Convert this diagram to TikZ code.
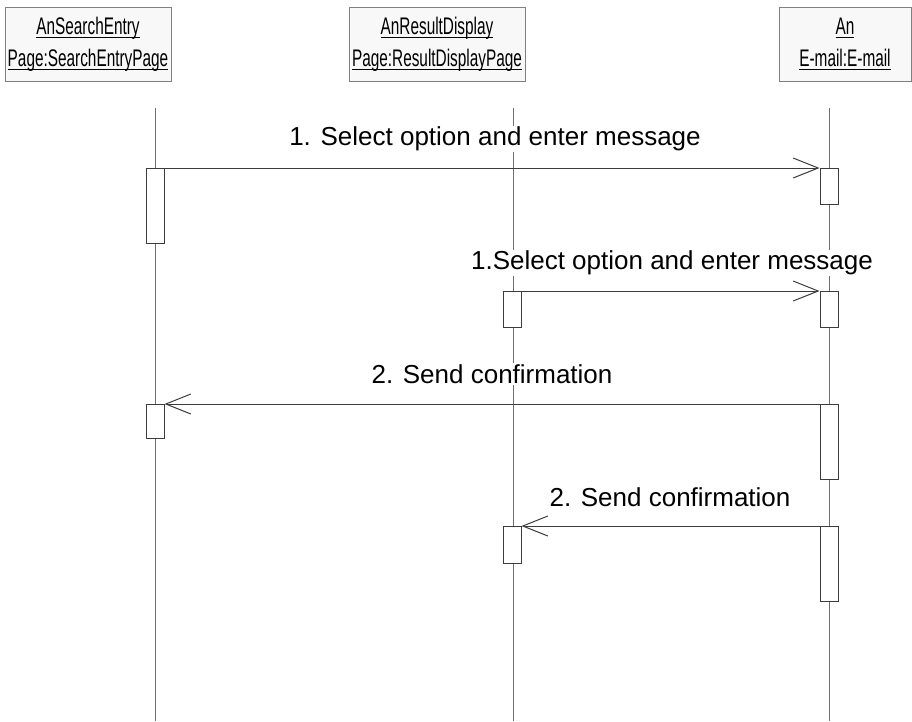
\documentclass[tikz,border=0pt]{standalone}
\usepackage{fontspec}
\setmainfont{Liberation Sans}
\newfontfamily\seqheadfont[FakeStretch=0.64]{Liberation Sans}
\usetikzlibrary{arrows.meta,positioning}
\definecolor{SeqLine}{HTML}{3C3C3C}
\definecolor{SeqLife}{HTML}{707070}
\definecolor{SeqHeadFill}{HTML}{F8F8F8}
\definecolor{SeqHeadDraw}{HTML}{808080}
\newcommand\sequl[1]{\setbox0\hbox{#1}\rlap{\rule[-4pt]{\wd0}{1.6pt}}\box0}
\tikzset{
  seqhead/.style={draw=SeqHeadDraw,fill=SeqHeadFill,line width=1pt,align=center,
    inner sep=0pt,minimum height=74pt,font=\seqheadfont\fontsize{24}{32}\selectfont},
  seqlife/.style={SeqLife,line width=1pt},
  seqact/.style={draw=SeqLine,fill=white,line width=1pt,minimum width=18pt,
    inner sep=0pt,anchor=north},
  seqmsg/.style={-{Straight Barb[length=25pt,width=20pt]},SeqLine,line width=1pt},
  seqlabel/.style={fill=white,inner sep=1pt,font=\fontsize{26}{30}\selectfont}
}

\begin{document}
\begin{tikzpicture}[x=1pt,y=-1pt]
  \path[use as bounding box,fill=white] (0,0) rectangle (912,721);

  % object heads
  \node[seqhead,minimum width=166pt] (hSearch) at (88,44)
    {\sequl{AnSearchEntry}\\\sequl{Page:SearchEntryPage}};
  \node[seqhead,minimum width=176pt] (hResult) at (437,44)
    {\sequl{AnResultDisplay}\\\sequl{Page:ResultDisplayPage}};
  \node[seqhead,minimum width=132pt] (hMail) at (845,44)
    {\sequl{An}\\\sequl{E-mail:E-mail}};

  % lifelines
  \coordinate (sTop) at (155,108);
  \coordinate (sBot) at (155,721);
  \coordinate (rTop) at (513,108);
  \coordinate (rBot) at (513,721);
  \coordinate (eTop) at (829,108);
  \coordinate (eBot) at (829,721);
  \foreach \a/\b in {sTop/sBot,rTop/rBot,eTop/eBot}{
    \draw[seqlife] (\a) -- (\b);
  }

  % activations
  \node[seqact,minimum height=75pt] (s1) at (155,168) {};
  \node[seqact,minimum height=36pt] (e1) at (829,168) {};
  \node[seqact,minimum height=36pt] (r1) at (512,291) {};
  \node[seqact,minimum height=36pt] (e2) at (829,291) {};
  \node[seqact,minimum height=34pt] (s2) at (155,404) {};
  \node[seqact,minimum height=75pt] (e3) at (829,404) {};
  \node[seqact,minimum height=37pt] (r2) at (512,526) {};
  \node[seqact,minimum height=75pt] (e4) at (829,526) {};

  % messages
  \draw[seqmsg] (s1.north east) -- (e1.north west);
  \draw[seqmsg] (r1.north east) -- (e2.north west);
  \draw[seqmsg] (e3.north west) -- (s2.north east);
  \draw[seqmsg] (e4.north west) -- (r2.north east);
  \node[seqlabel] (m1) at (495,139) {1. Select option and enter message};
  \node[seqlabel] (m2) at (672,263) {1.Select option and enter message};
  \node[seqlabel] (m3) at (492,374) {2. Send confirmation};
  \node[seqlabel] (m4) at (670,497) {2. Send confirmation};
\end{tikzpicture}
\end{document}
